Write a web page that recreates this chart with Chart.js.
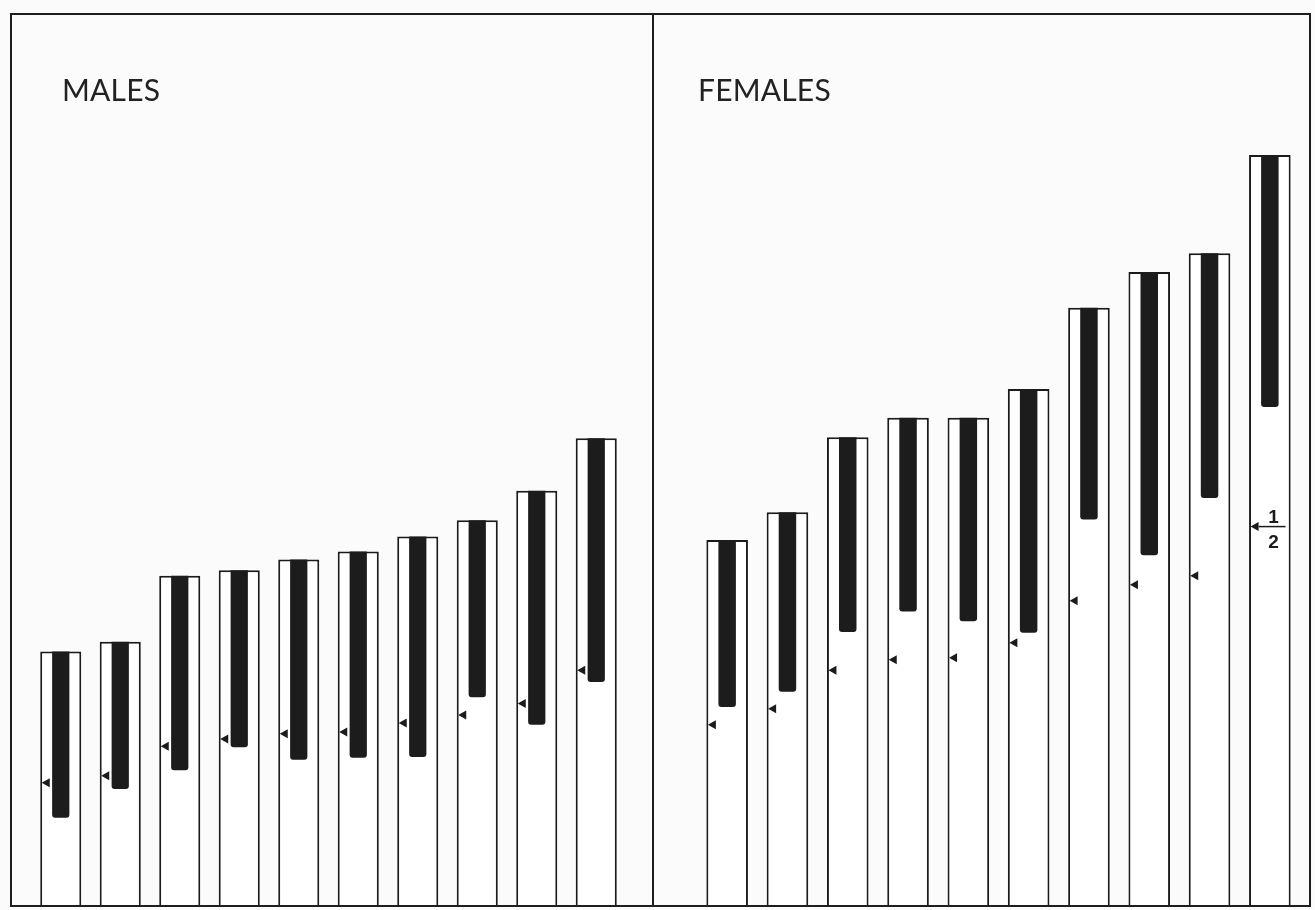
<!DOCTYPE html>
<html>
<head>
<meta charset="utf-8">
<script src="https://cdn.jsdelivr.net/npm/chart.js@4.4.1/dist/chart.umd.min.js"></script>
<style>
    body { margin: 0; background: #fbfbfb; width: 1315px; height: 910px; overflow: hidden; position: relative; }
    .frame { position: absolute; left: 10px; top: 13px; width: 1301px; height: 894px; border: 2px solid #1e1e1e; box-sizing: border-box; pointer-events: none; }
    .divider { position: absolute; left: 652px; top: 14px; width: 0; height: 892px; border-left: 2px solid #1e1e1e; pointer-events: none; }
    canvas { position: absolute; top: 14px; }
    #maleChart { left: 10px; }
    #femaleChart { left: 653px; }
    .panel-label { position: absolute; top: 71px; font-family: Lato, "Open Sans", sans-serif; font-size: 30px; color: #222; letter-spacing: 0.2px; }
</style>
</head>
<body>
<canvas id="maleChart" width="643" height="893" style="width:643px;height:893px"></canvas>
<canvas id="femaleChart" width="658" height="893" style="width:658px;height:893px"></canvas>
<div class="frame"></div>
<div class="divider"></div>
<div class="panel-label" style="left:62px">MALES</div>
<div class="panel-label" style="left:698px">FEMALES</div>

<script>
// values, relative scale 0-100 (bottom of frame = 0, top = 100)
const groups = ['1', '2', '3', '4', '5', '6', '7', '8', '9', '10'];

// MALES
const maleTop      = [28.6, 29.7, 37.1, 37.7, 38.9, 39.8, 41.5, 43.3, 46.6, 52.5];
const maleBlackLow = [10.0, 13.2, 15.3, 17.9, 16.5, 16.7, 16.8, 23.5, 20.4, 25.2];
const maleMark     = [13.9, 14.7, 18.0, 18.8, 19.4, 19.6, 20.6, 21.5, 22.8, 26.5];

// FEMALES
const femaleTop      = [41.1, 44.2, 52.6, 54.8, 54.8, 58.0, 67.1, 71.1, 73.2, 84.2];
const femaleBlackLow = [22.4, 24.1, 30.8, 33.1, 32.0, 30.7, 43.4, 39.4, 45.8, 56.0];
const femaleMark     = [20.4, 22.2, 26.5, 27.7, 27.9, 29.6, 34.3, 36.1, 37.1, 42.6];

const fracLabel = ['1', '2'];

// draws the small left-pointing markers at the left edge of each open bar
const markerPlugin = {
    id: 'markers',
    afterDatasetsDraw(chart, args, opts) {
        const ctx = chart.ctx;
        const meta = chart.getDatasetMeta(1);
        const yScale = chart.scales.y;
        ctx.save();
        ctx.fillStyle = '#1b1b1b';
        ctx.strokeStyle = '#1b1b1b';
        meta.data.forEach((bar, i) => {
            const x = bar.x - bar.width / 2 + 1.5;
            const y = yScale.getPixelForValue(opts.values[i]);
            ctx.beginPath();
            ctx.moveTo(x, y);
            ctx.lineTo(x + 8, y - 4.5);
            ctx.lineTo(x + 8, y + 4.5);
            ctx.closePath();
            ctx.fill();

            if (opts.fracIndex === i) {
                ctx.lineWidth = 1.5;
                ctx.beginPath();
                ctx.moveTo(x + 8, y);
                ctx.lineTo(x + 35, y);
                ctx.stroke();
                ctx.font = 'bold 19px "Liberation Sans", Arial, sans-serif';
                ctx.textAlign = 'center';
                ctx.textBaseline = 'alphabetic';
                ctx.fillText(fracLabel[0], x + 23, y - 4);
                ctx.textBaseline = 'top';
                ctx.fillText(fracLabel[1], x + 23, y + 7);
            }
        });
        ctx.restore();
    }
};

function makePanel(canvasId, tops, lows, marks, padding, fracIndex) {
    const canvas = document.getElementById(canvasId);
    const ranges = lows.map((lo, i) => [lo, tops[i]]);

    return new Chart(canvas, {
        type: 'bar',
        data: {
            labels: groups,
            datasets: [{
                label: 'range',
                data: ranges,
                backgroundColor: '#1c1c1c',
                borderWidth: 0,
                borderRadius: { bottomLeft: 3, bottomRight: 3, topLeft: 0, topRight: 0 },
                borderSkipped: false,
                grouped: false,
                barPercentage: 0.29,
                categoryPercentage: 1,
                order: 0
            }, {
                label: 'total',
                data: tops,
                backgroundColor: '#ffffff',
                borderColor: '#1b1b1b',
                borderWidth: 2,
                grouped: false,
                barPercentage: 0.69,
                categoryPercentage: 1,
                order: 1
            }]
        },
        options: {
            responsive: false,
            animation: false,
            layout: { padding: padding },
            plugins: {
                legend: { display: false },
                tooltip: { enabled: false },
                markers: { values: marks, fracIndex: fracIndex }
            },
            scales: {
                x: { display: false, offset: true, grid: { display: false } },
                y: { display: false, min: 0, max: 100 }
            }
        },
        plugins: [markerPlugin]
    });
}

makePanel('maleChart', maleTop, maleBlackLow, maleMark, { left: 21, right: 27, top: 0, bottom: 0 }, -1);
makePanel('femaleChart', femaleTop, femaleBlackLow, femaleMark, { left: 44, right: 11, top: 0, bottom: 0 }, 9);
</script>
</body>
</html>
